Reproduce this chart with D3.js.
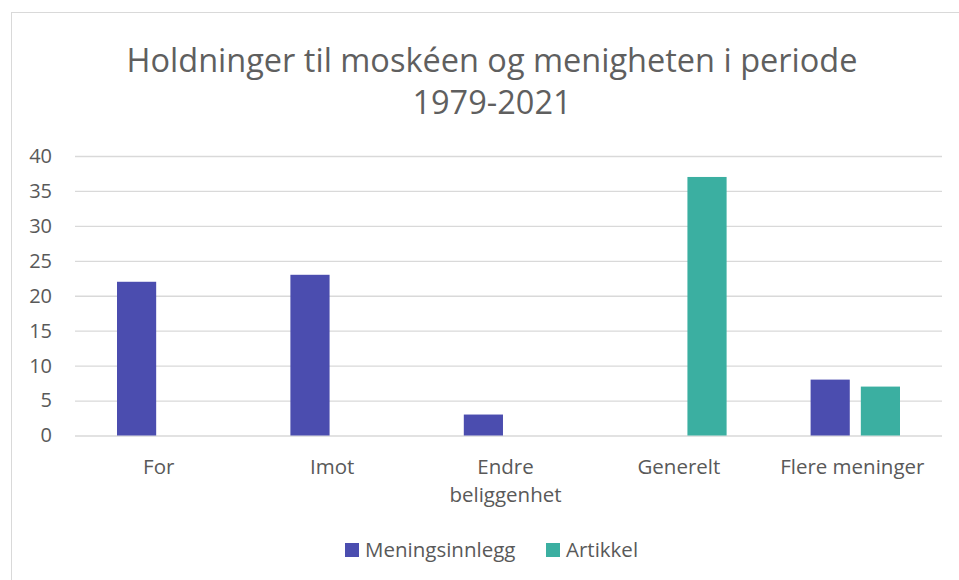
<!DOCTYPE html>
<html><head><meta charset="utf-8">
<script src="https://cdn.jsdelivr.net/npm/d3@7"></script>
<style>body{margin:0;background:#fff;} svg{display:block;}</style>
</head><body>
<script>
const categories = [["For"], ["Imot"], ["Endre", "beliggenhet"], ["Generelt"], ["Flere meninger"]];
const seriesNames = ["Meningsinnlegg", "Artikkel"];
const meningsinnlegg = [22, 23, 3, 0, 8];
const artikkel = [0, 0, 0, 37, 7];
const yTicks = [0, 5, 10, 15, 20, 25, 30, 35, 40];
const titleLines = ["Holdninger til moskéen og menigheten i periode", "1979-2021"];
const colors = ["#4B4DAF", "#3BAFA1"];

(function () {
const W = 959, H = 580;
const font = "'Open Sans', sans-serif";
const textColor = "#595959";
const svg = d3.select("body").append("svg").attr("width", W).attr("height", H);
svg.append("rect").attr("width", W).attr("height", H).attr("fill", "#fff");
svg.append("rect").attr("x", 11.5).attr("y", 12.5).attr("width", W + 10).attr("height", H + 10)
  .attr("fill", "none").attr("stroke", "#d9d9d9").attr("stroke-width", 1);

const pl = 75, pr = 942, pt = 156, pb = 435.5;
const catKeys = categories.map(c => c.join(" "));
const x0 = d3.scaleBand().domain(catKeys).range([pl, pr]).paddingInner(0).paddingOuter(0);
const x1 = d3.scaleBand().domain(seriesNames).range([42, x0.bandwidth() - 42]).paddingInner(0.22).paddingOuter(0);
const y = d3.scaleLinear().domain([0, 40]).range([pb, pt]);

svg.append("g").selectAll("text").data(titleLines).join("text")
  .attr("x", 492).attr("y", (d, i) => 72 + i * 42)
  .attr("text-anchor", "middle").attr("font-family", font).attr("font-size", 32.5)
  .attr("fill", "#5f5f5f").text(d => d);

const yAxis = d3.axisLeft(y).tickValues(yTicks).tickSize(-(pr - pl)).tickPadding(23);
const gy = svg.append("g").attr("transform", `translate(${pl},0)`).call(yAxis);
gy.select(".domain").remove();
gy.selectAll(".tick line").attr("stroke", "#d9d9d9").attr("stroke-width", 1.3);
gy.selectAll(".tick text").attr("font-family", font).attr("font-size", 20).attr("fill", textColor);

const data = catKeys.map((k, i) => ({ key: k, vals: [meningsinnlegg[i], artikkel[i]] }));
const groups = svg.append("g").selectAll("g").data(data).join("g")
  .attr("transform", d => `translate(${x0(d.key)},0)`);
groups.selectAll("rect").data(d => d.vals.map((v, j) => ({ s: seriesNames[j], v, j })).filter(e => e.v > 0))
  .join("rect")
  .attr("x", e => x1(e.s)).attr("width", x1.bandwidth())
  .attr("y", e => y(e.v)).attr("height", e => y(0) - y(e.v))
  .attr("fill", e => colors[e.j]);

const xl = svg.append("g").selectAll("text").data(categories).join("text")
  .attr("x", (d, i) => x0(catKeys[i]) + x0.bandwidth() / 2 - 3)
  .attr("y", 474).attr("text-anchor", "middle").attr("font-family", font)
  .attr("font-size", 20.5).attr("fill", textColor);
xl.selectAll("tspan").data(d => d).join("tspan")
  .attr("x", function () { return d3.select(this.parentNode).attr("x"); })
  .attr("dy", (d, i) => i === 0 ? 0 : 28).text(d => d);

const legendX = [345, 546];
const lg = svg.append("g").selectAll("g").data(seriesNames).join("g")
  .attr("transform", (d, i) => `translate(${legendX[i]},543)`);
lg.append("rect").attr("width", 14).attr("height", 14).attr("fill", (d, i) => colors[i]);
lg.append("text").attr("x", 20).attr("y", 14).attr("font-family", font).attr("font-size", 20.5)
  .attr("fill", textColor).text(d => d);
})();
</script>
</body></html>
